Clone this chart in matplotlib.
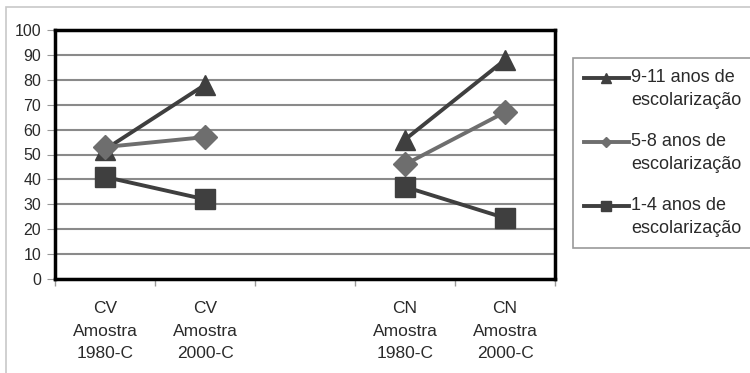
import numpy as np
import matplotlib
matplotlib.use("Agg")
from matplotlib import pyplot as plt
from matplotlib.patches import Rectangle

plt.rcParams['font.family'] = ['Liberation Sans', 'DejaVu Sans']

# categories (the middle slot is an empty gap between the two groups)
categories = ["CV\nAmostra\n1980-C", "CV\nAmostra\n2000-C", "",
              "CN\nAmostra\n1980-C", "CN\nAmostra\n2000-C"]
series_names = ["9-11 anos de\nescolarização",
                "5-8 anos de\nescolarização",
                "1-4 anos de\nescolarização"]
anos_9_11 = [52, 78, np.nan, 56, 88]
anos_5_8 = [53, 57, np.nan, 46, 67]
anos_1_4 = [41, 32, np.nan, 37, 24.5]
y_ticks = list(range(0, 101, 10))

fig = plt.figure(figsize=(7.5, 3.73), dpi=100)
ax = fig.add_axes([55 / 750, 1 - 279 / 373, 500 / 750, 249 / 373])

# light frame around the whole chart
fig.patches.append(Rectangle((6 / 750, -0.1), 1.1, 1 - 7 / 373 + 0.1,
                             transform=fig.transFigure, fill=False,
                             edgecolor="#c8c8c8", linewidth=1.2))

x = np.arange(len(categories))
styles = [("^", 15, "#3f3f3f"), ("D", 12, "#6e6e6e"), ("s", 15, "#3f3f3f")]
for vals, name, (mk, ms, col) in zip([anos_9_11, anos_5_8, anos_1_4], series_names, styles):
    ax.plot(x, vals, color=col, lw=2.8, marker=mk, markersize=ms,
            markerfacecolor=col, markeredgecolor=col, label=name, zorder=3)

ax.set_xlim(-0.5, len(categories) - 0.5)
ax.set_ylim(0, 100)
ax.set_yticks(y_ticks)
ax.yaxis.grid(True, color="#8a8a8a", lw=1.5)
ax.set_axisbelow(True)

ax.set_xticks(x)
ax.set_xticklabels(categories, fontsize=12.5, color="#2a2a2a", linespacing=1.62)
ax.tick_params(axis="x", which="major", length=0, pad=16)
ax.set_xticks(np.arange(-0.5, len(categories), 1), minor=True)
ax.tick_params(axis="x", which="minor", length=5, color="#999999", width=1)
ax.tick_params(axis="y", length=6, color="#999999", labelsize=11.5,
               labelcolor="#2a2a2a", pad=4)

for s in ax.spines.values():
    s.set_linewidth(2.5)
    s.set_color("black")

leg = fig.legend(loc="upper left", bbox_to_anchor=(573 / 750, 1 - 58 / 373),
                 fontsize=13, frameon=True, fancybox=False, markerscale=0.45,
                 handlelength=2.5, handletextpad=0.1, labelspacing=1.35,
                 borderpad=0.6, borderaxespad=0)
leg.get_frame().set_edgecolor("#808080")
leg.get_frame().set_linewidth(1.2)
for t in leg.get_texts():
    t.set_color("#2a2a2a")
    t.set_linespacing(1.45)
# line up each legend handle with the first line of its label
for h in leg.legend_handles:
    h.set_ydata(np.asarray(h.get_ydata()) + 8)

fig.savefig("out.png", dpi=100)
